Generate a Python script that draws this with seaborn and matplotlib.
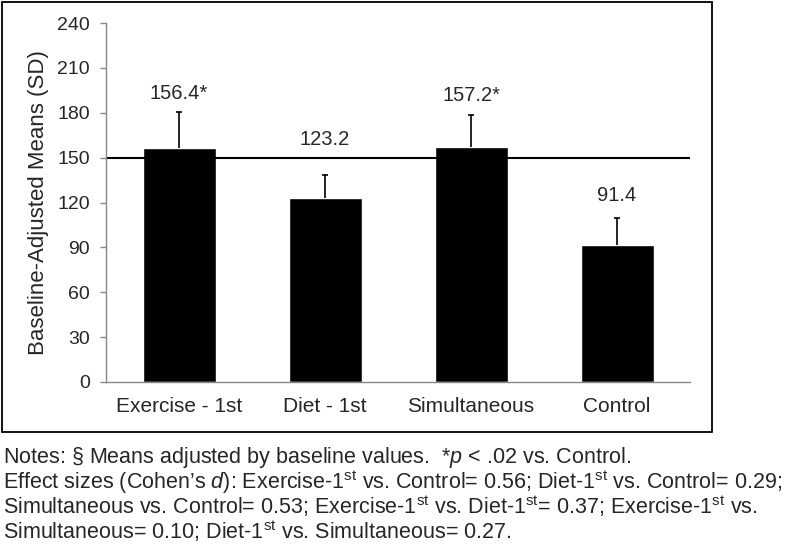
import matplotlib
matplotlib.use('Agg')
import matplotlib.pyplot as plt
import seaborn as sns
import pandas as pd
from matplotlib.patches import Rectangle

groups = ['Exercise - 1st', 'Diet - 1st', 'Simultaneous', 'Control']
means = [156.4, 123.2, 157.2, 91.4]
sds = [24.0, 15.0, 21.5, 18.5]
labels = ['156.4*', '123.2', '157.2*', '91.4']
label_offsets = [13.5, 26, 14, 16]  # points above error bar top

sns.set_style('white')
plt.rcParams['font.family'] = ['Liberation Sans', 'DejaVu Sans']
plt.rcParams['mathtext.fontset'] = 'custom'
plt.rcParams['mathtext.rm'] = 'Liberation Sans'
plt.rcParams['mathtext.it'] = 'Liberation Sans:italic'

df = pd.DataFrame({'group': groups, 'mean': means})

fig = plt.figure(figsize=(8, 5.44), dpi=100)
ax = fig.add_axes([0.1325, 0.2978, 0.73, 0.6599])

sns.barplot(data=df, x='group', y='mean', color='black', width=0.5,
            saturation=1, errorbar=None, ax=ax)

# upper-only error bars
xs = range(len(groups))
tops = [m + s for m, s in zip(means, sds)]
ax.vlines(xs, means, tops, color='black', lw=1.2, zorder=3)
ax.hlines(tops, [x - 0.022 for x in xs], [x + 0.022 for x in xs],
          color='black', lw=1.2, zorder=3)
ax.axhline(150, color='black', lw=1.5, zorder=1)

for i, (t, lab, off) in enumerate(zip(tops, labels, label_offsets)):
    ax.annotate(lab, (i, t), xytext=(0, off), textcoords='offset points',
                ha='center', va='center', fontsize=14.5)

ax.set_ylim(0, 240)
ax.set_yticks(range(0, 241, 30))
ax.set_xlim(-0.5, 3.5)
ax.set_xlabel('')
ax.set_ylabel('Baseline-Adjusted Means (SD)', fontsize=16, labelpad=6)
ax.tick_params(axis='y', labelsize=14, length=4.5, width=1, color='#888888',
               direction='out', left=True, pad=7)
ax.tick_params(axis='x', labelsize=15, length=0, pad=11)
for side in ['top', 'right']:
    ax.spines[side].set_visible(False)
for side in ['left', 'bottom']:
    ax.spines[side].set_color('#888888')
    ax.spines[side].set_linewidth(1)

# outer frame around the chart
fig.patches.append(Rectangle((1.5 / 800, 1 - 432 / 544), 710 / 800, 430.5 / 544,
                             transform=fig.transFigure, fill=False,
                             edgecolor='black', lw=1.3))

notes = [
    r'Notes: § Means adjusted by baseline values.  *$p$ < .02 vs. Control.',
    r"Effect sizes (Cohen’s $d$): Exercise-1$^{\rm st}$ vs. Control= 0.56; Diet-1$^{\rm st}$ vs. Control= 0.29;",
    r'Simultaneous vs. Control= 0.53; Exercise-1$^{\rm st}$ vs. Diet-1$^{\rm st}$= 0.37; Exercise-1$^{\rm st}$ vs.',
    r'Simultaneous= 0.10; Diet-1$^{\rm st}$ vs. Simultaneous= 0.27.',
]
for k, line in enumerate(notes):
    fig.text(3 / 800, 1 - (457 + 24.7 * k) / 544, line, fontsize=15.5,
             ha='left', va='center')

fig.savefig('out.png', dpi=100)
